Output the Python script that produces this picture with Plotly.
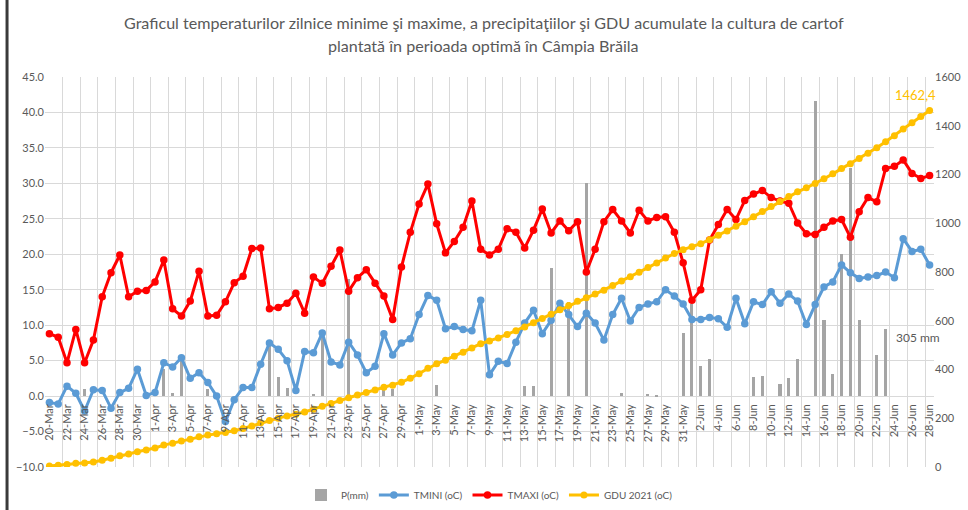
import pandas as pd
import plotly.graph_objects as go

# ---- categories (daily, 20-Mar .. 28-Jun 2021) ----
dates = pd.date_range("2021-03-20", "2021-06-28", freq="D")
categories = [f"{d.day}-{d.strftime('%b')}" for d in dates]

# ---- series values ----
tmax = [8.8, 8.3, 4.7, 9.4, 4.7, 7.9, 14.0, 17.4, 19.9, 14.0,
        14.8, 14.9, 16.1, 19.2, 12.3, 11.3, 13.4, 17.6, 11.3, 11.4,
        13.3, 16.0, 16.9, 20.8, 20.9, 12.3, 12.5, 13.1, 14.5, 11.7,
        16.8, 15.9, 18.3, 20.6, 14.8, 16.7, 17.8, 15.9, 14.1, 10.8,
        18.2, 23.1, 27.1, 29.9, 24.3, 20.2, 21.8, 23.8, 27.5, 20.7,
        19.9, 20.7, 23.6, 23.1, 20.9, 23.4, 26.4, 23.0, 24.7, 23.3,
        24.6, 17.5, 20.7, 24.6, 26.3, 24.7, 23.0, 26.2, 24.7, 25.2,
        25.3, 23.1, 18.8, 13.5, 15.0, 22.0, 24.2, 26.3, 24.9, 27.6,
        28.5, 29.0, 28.0, 27.5, 27.2, 24.4, 22.9, 22.8, 23.8, 24.7,
        24.9, 22.4, 26.0, 28.0, 27.4, 32.1, 32.4, 33.3, 31.4, 30.7,
        31.1]

tmin = [-0.9, -1.1, 1.4, 0.4, -2.1, 0.9, 0.8, -1.7, 0.5, 1.1,
        3.8, 0.1, 0.5, 4.7, 4.1, 5.4, 2.5, 3.3, 1.9, 0.0,
        -3.6, -0.5, 1.2, 1.2, 4.5, 7.5, 6.6, 5.0, 0.8, 6.3,
        6.1, 8.9, 4.8, 4.4, 7.6, 5.8, 3.3, 4.2, 8.8, 5.8,
        7.5, 8.1, 11.5, 14.2, 13.5, 9.5, 9.8, 9.4, 9.2, 13.5,
        3.0, 4.9, 4.6, 7.6, 10.3, 12.1, 8.8, 10.7, 13.1, 11.5,
        9.8, 11.7, 10.3, 7.9, 11.5, 13.8, 10.6, 12.5, 13.0, 13.3,
        15.0, 14.1, 13.0, 10.8, 10.8, 11.1, 10.9, 9.7, 13.8, 10.2,
        13.3, 12.9, 14.7, 13.1, 14.4, 13.4, 10.1, 12.9, 15.4, 16.1,
        18.5, 17.4, 16.6, 16.8, 17.0, 17.5, 16.7, 22.2, 20.4, 20.7,
        18.5]

gdu = [4.0, 7.4, 10.4, 15.2, 16.4, 20.7, 28.0, 35.7, 45.8, 53.2,
       62.4, 69.8, 78.0, 89.8, 97.9, 106.2, 114.0, 124.3, 130.8, 136.4,
       141.1, 148.8, 157.7, 168.6, 181.2, 191.0, 200.4, 209.4, 216.9, 225.8,
       237.2, 249.4, 260.9, 273.3, 284.4, 295.5, 305.9, 315.9, 327.2, 335.4,
       348.2, 363.6, 382.8, 404.8, 423.6, 438.3, 454.0, 470.5, 488.7, 505.7,
       517.1, 529.7, 543.7, 559.0, 574.5, 592.1, 609.6, 626.3, 645.1, 662.4,
       679.5, 694.0, 709.4, 725.5, 744.3, 763.4, 780.1, 799.4, 818.1, 837.3,
       857.3, 875.8, 891.6, 903.6, 916.4, 932.8, 950.3, 968.2, 987.4, 1006.2,
       1027.0, 1047.8, 1069.1, 1089.3, 1110.0, 1128.8, 1145.2, 1162.9, 1182.4, 1202.7,
       1224.3, 1244.1, 1265.3, 1287.5, 1309.6, 1334.3, 1358.7, 1386.4, 1412.2, 1437.8,
       1462.4]

precip = [0, 0, 0, 0, 1.0, 0, 0, 0, 0, 0,
          0, 0, 0, 3.8, 0.4, 5.0, 0, 0, 1.0, 0,
          0, 0, 0, 0, 0, 7.0, 2.7, 1.1, 0, 0,
          0.3, 8.5, 0, 0, 16.5, 0, 0, 0, 1.0, 1.0,
          0, 0, 0, 0, 1.5, 0, 0, 0, 0, 0,
          0, 0, 0, 0, 1.4, 1.4, 0, 18.0, 0, 13.3,
          0, 30.0, 0, 0, 0, 0.4, 0, 0, 0.3, 0.2,
          0, 0, 8.9, 13.0, 4.3, 5.2, 0, 0, 0, 0,
          2.7, 2.9, 0, 1.7, 2.6, 5.2, 0, 41.6, 10.8, 3.1,
          20.0, 32.1, 10.7, 0, 5.8, 9.5, 0, 0, 0, 0,
          0]

left_ticks = [-10, -5, 0, 5, 10, 15, 20, 25, 30, 35, 40, 45]
right_ticks = [0, 200, 400, 600, 800, 1000, 1200, 1400, 1600]

title_line1 = "Graficul temperaturilor zilnice minime şi maxime, a precipitaţiilor şi GDU acumulate la cultura de cartof"
title_line2 = "plantată în perioada optimă în Câmpia Brăila"
gdu_label = "1462,4"
precip_label = "305 mm"

FONT = "Lato"
TXT = "#595959"

fig = go.Figure()
fig.add_trace(go.Bar(x=categories, y=precip, name="P(mm)", marker_color="#a5a5a5",
                     marker_line_width=0, width=0.35, yaxis="y"))
fig.add_trace(go.Scatter(x=categories, y=tmin, name="TMINI (oC)", mode="lines+markers",
                         line=dict(color="#5b9bd5", width=3),
                         marker=dict(size=7.5, color="#5b9bd5"), yaxis="y"))
fig.add_trace(go.Scatter(x=categories, y=tmax, name="TMAXI (oC)", mode="lines+markers",
                         line=dict(color="#ff0000", width=3),
                         marker=dict(size=7.5, color="#ff0000"), yaxis="y"))
fig.add_trace(go.Scatter(x=categories, y=gdu, name="GDU 2021 (oC)", mode="lines+markers",
                         line=dict(color="#ffc000", width=3),
                         marker=dict(size=7, color="#ffc000"), yaxis="y2"))

fig.update_layout(
    width=968, height=510,
    margin=dict(l=45, r=34, t=77, b=43, autoexpand=False),
    paper_bgcolor="white", plot_bgcolor="white",
    font=dict(family=FONT, size=11, color=TXT),
    bargap=0,
    showlegend=True,
    legend=dict(orientation="h", x=0.5, xanchor="center", y=-0.072, yanchor="middle",
                font=dict(size=10, color=TXT), itemwidth=30, tracegroupgap=0),
    xaxis=dict(type="category", tickmode="linear", tick0=0, dtick=2,
               tickson="boundaries", range=[-0.5, 100.5], automargin=False,
               showgrid=True, gridcolor="#d9d9d9", gridwidth=1,
               tickangle=-90, ticks="", showline=False, zeroline=False,
               ticklabelstandoff=5,
               anchor="free", position=(0 - left_ticks[0]) / (left_ticks[-1] - left_ticks[0]),
               tickfont=dict(size=11, color=TXT)),
    yaxis=dict(range=[left_ticks[0], left_ticks[-1]], tickvals=left_ticks, automargin=False,
               tickformat=".1f", showgrid=True, gridcolor="#d9d9d9", gridwidth=1,
               zeroline=False, showline=False, ticks="",
               tickfont=dict(size=11, color=TXT)),
    yaxis2=dict(range=[right_ticks[0], right_ticks[-1]], tickvals=right_ticks, automargin=False,
                overlaying="y", side="right", showgrid=False, zeroline=False,
                showline=False, ticks="", tickfont=dict(size=11, color=TXT)),
)

# two-line title as annotations (matching the reference line spacing)
fig.add_annotation(x=0.4933, y=1.141, xref="paper", yref="paper", text=title_line1,
                   showarrow=False, xanchor="center", yanchor="middle",
                   font=dict(family=FONT, size=16.1, color=TXT))
fig.add_annotation(x=0.4933, y=1.0795, xref="paper", yref="paper", text=title_line2,
                   showarrow=False, xanchor="center", yanchor="middle",
                   font=dict(family=FONT, size=16.1, color=TXT))

fig.add_annotation(x=categories[-1], y=gdu[-1], xref="x", yref="y2", text=gdu_label,
                   showarrow=False, xanchor="center", yanchor="bottom", xshift=-14, yshift=6,
                   font=dict(family=FONT, size=13, color="#ffc000"))
fig.add_annotation(x=0.982, y=8.3, xref="paper", yref="y", text=precip_label,
                   showarrow=False, xanchor="center", yanchor="middle",
                   font=dict(family=FONT, size=12, color=TXT))

fig.add_shape(type="line", xref="paper", yref="paper", x0=-0.0427, x1=-0.0427,
              y0=-0.12, y1=1.2, line=dict(color="#3a3a3a", width=3))

fig.write_html("out.html", config={"displayModeBar": False},
               post_script="document.body.style.margin='0';document.body.style.overflow='hidden';")
